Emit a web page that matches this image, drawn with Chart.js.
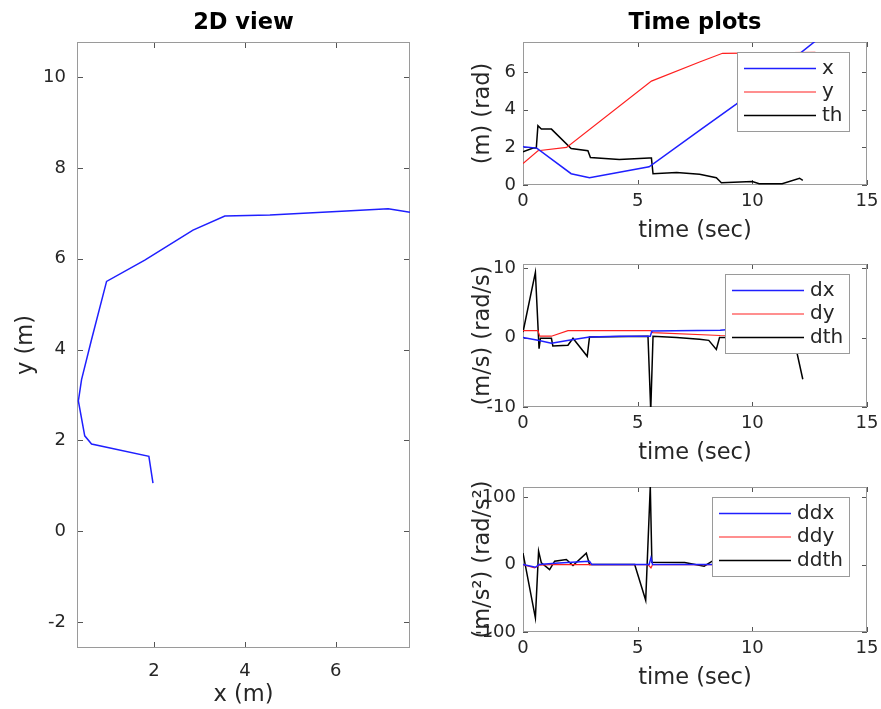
<!DOCTYPE html>
<html>
<head>
<meta charset="utf-8">
<script src="https://cdn.jsdelivr.net/npm/chart.js"></script>
<style>
body{margin:0;background:#fff;}
#wrap{position:relative;width:881px;height:709px;overflow:hidden;background:#fff;}
#wrap canvas{position:absolute;}
</style>
</head>
<body>
<div id="wrap">
	<canvas id="c2d" width="440" height="709" style="left:0;top:0;"></canvas>
	<canvas id="cPos" width="460" height="245" style="left:440px;top:0;"></canvas>
	<canvas id="cVel" width="460" height="223" style="left:440px;top:244px;"></canvas>
	<canvas id="cAcc" width="460" height="225" style="left:440px;top:467px;"></canvas>
</div>
<script>
// 2D 경로 (x, y)
var pathX = [1.98, 1.89, 0.63, 0.48, 0.34, 0.41, 0.63, 0.96, 1.80, 2.86, 3.56, 4.55, 6.23, 7.15, 7.63];
var pathY = [1.06, 1.65, 1.92, 2.10, 2.87, 3.34, 4.22, 5.50, 5.97, 6.63, 6.94, 6.96, 7.05, 7.10, 7.02];
var ticks2dX = [2, 4, 6];
var ticks2dY = [-2, 0, 2, 4, 6, 8, 10];

// 위치 (x, y, th)
var xT = [0, 0.6, 2.1, 2.9, 5.5, 7.7, 9.3, 12.75];
var xV = [2.03, 1.96, 0.6, 0.39, 0.97, 2.9, 4.3, 7.65];
var yT = [0, 0.65, 1.9, 5.6, 7.7, 8.7, 12.75];
var yV = [1.14, 1.82, 2.0, 5.52, 6.54, 7.0, 7.05];
var thT = [0, 0.44, 0.58, 0.65, 0.8, 1.24, 2.1, 2.83, 2.94, 4.2, 5.5, 5.6, 5.67, 6.7, 7.7, 8.43, 8.65, 10.0, 10.3, 11.3, 12.06, 12.2];
var thV = [1.76, 1.96, 1.96, 3.15, 2.97, 2.97, 1.94, 1.82, 1.46, 1.35, 1.43, 1.43, 0.6, 0.66, 0.57, 0.39, 0.12, 0.18, 0.07, 0.07, 0.36, 0.25];

// 속도 (dx, dy, dth)
var dxT = [0, 0.65, 1.24, 2.0, 2.9, 4.2, 5.55, 5.62, 8.6, 9.5, 12.2];
var dxV = [0, -0.4, -0.8, -0.4, 0.1, 0.2, 0.2, 0.95, 1.05, 1.3, 1.3];
var dyT = [0, 0.65, 0.73, 1.24, 1.96, 5.57, 5.65, 8.6, 12.2];
var dyV = [1.0, 1.0, 0.2, 0.2, 1.0, 1.0, 0.7, 0.3, 0.1];
var dthT = [0, 0.54, 0.7, 0.76, 1.24, 1.3, 1.96, 2.18, 2.8, 2.9, 5.45, 5.57, 5.67, 6.7, 7.7, 8.1, 8.43, 8.57, 9.5, 11.0, 11.8, 12.2];
var dthV = [0.8, 9.4, -1.6, -0.1, -0.1, -1.2, -1.1, -0.1, -2.7, 0.1, 0.2, -10.5, 0.2, 0, -0.25, -0.4, -1.7, 0, 0, 0, 0, -6.0];

// 가속도 (ddx, ddy, ddth)
var ddxT = [0, 0.54, 0.7, 1.4, 2.5, 2.9, 3.0, 5.5, 5.58, 5.65, 9.5];
var ddxV = [0, -4, 0, 2, 4, 5, 0, 0, 10, 0, 0];
var ddyT = [0, 0.51, 0.7, 1.2, 5.45, 5.58, 5.65, 9.5];
var ddyV = [0, -5, -1, 0, 0, -5, 0, 0];
var ddthT = [0, 0.54, 0.68, 0.8, 1.16, 1.38, 1.89, 2.18, 2.76, 2.9, 4.87, 5.35, 5.55, 5.62, 7.05, 7.9, 8.25, 8.6, 9.5];
var ddthV = [17, -79, 20, 2.5, -7.4, 5, 7.4, -1.5, 17, 0, 0, -53, 116, 3.4, 3, -2.5, 5, 7, 0];

var timeTicks = [0, 5, 10, 15];
var posTicks = [0, 2, 4, 6];
var velTicks = [-10, 0, 10];
var accTicks = [-100, 0, 100];

Chart.defaults.font.family = '"DejaVu Sans"';
Chart.defaults.color = '#262626';

function pts(t, v){
	return t.map(function(tt, i){ return {x: tt, y: v[i]}; });
}

function line(label, t, v, color, w){
	return {label: label, data: pts(t, v), borderColor: color, borderWidth: w, pointRadius: 0, tension: 0, fill: false};
}

// 테두리 + 안쪽 눈금
var frameTicks = {
	id: 'frameTicks',
	beforeDatasetsDraw: function(chart, args, opts){
		var ctx = chart.ctx, a = chart.chartArea, len = opts.len || 5;
		var sx = chart.scales.x, sy = chart.scales.y;
		ctx.save();
		ctx.strokeStyle = '#555';
		ctx.lineWidth = 1;
		ctx.beginPath();
		sx.ticks.forEach(function(t){
			var p = Math.round(sx.getPixelForValue(t.value)) + 0.5;
			ctx.moveTo(p, a.bottom); ctx.lineTo(p, a.bottom - len);
			ctx.moveTo(p, a.top); ctx.lineTo(p, a.top + len);
		});
		sy.ticks.forEach(function(t){
			var p = Math.round(sy.getPixelForValue(t.value)) + 0.5;
			ctx.moveTo(a.left, p); ctx.lineTo(a.left + len, p);
			ctx.moveTo(a.right, p); ctx.lineTo(a.right - len, p);
		});
		ctx.stroke();
		ctx.strokeStyle = '#9a9a9a';
		ctx.strokeRect(a.left + 0.5, a.top + 0.5, a.right - a.left - 1, a.bottom - a.top - 1);
		ctx.restore();
	}
};

// 그래프 안 범례 상자
var legendBox = {
	id: 'legendBox',
	afterDatasetsDraw: function(chart, args, opts){
		if(!opts.show) return;
		var ctx = chart.ctx, a = chart.chartArea;
		ctx.save();
		ctx.font = '20px "DejaVu Sans"';
		var tw = 0;
		chart.data.datasets.forEach(function(d){ tw = Math.max(tw, ctx.measureText(d.label).width); });
		var w = Math.round(7 + 72 + 6 + tw + 6), h = 79;
		var x = Math.round(a.right - 18 - w), y = Math.round(a.top + opts.top);
		ctx.fillStyle = '#fff';
		ctx.fillRect(x, y, w, h);
		ctx.strokeStyle = '#9a9a9a';
		ctx.lineWidth = 1;
		ctx.strokeRect(x + 0.5, y + 0.5, w, h);
		chart.data.datasets.forEach(function(d, i){
			var ly = y + 16.5 + i * 23.5;
			ctx.strokeStyle = d.borderColor;
			ctx.lineWidth = d.borderWidth;
			ctx.beginPath(); ctx.moveTo(x + 7, ly); ctx.lineTo(x + 79, ly); ctx.stroke();
			ctx.fillStyle = '#262626';
			ctx.textBaseline = 'middle';
			ctx.textAlign = 'left';
			ctx.fillText(d.label, x + 85, ly);
		});
		ctx.restore();
	}
};

function setTicks(list){
	return function(s){ s.ticks = list.map(function(v){ return {value: v}; }); };
}

// 왼쪽 2D 그래프
new Chart(document.getElementById('c2d'), {
	type: 'line',
	data: {datasets: [line('path', pathY.map(function(v, i){ return pathX[i]; }), pathY, '#1f1fff', 1.5)]},
	options: {
		responsive: false, animation: false, events: [],
		layout: {padding: {right: 30}},
		plugins: {
			legend: {display: false}, tooltip: {enabled: false},
			title: {display: true, fullSize: false, text: '2D view', color: '#000', font: {size: 22.5, weight: 'bold'}, padding: {top: 10, bottom: 5}},
			frameTicks: {len: 6}, legendBox: {show: false}
		},
		scales: {
			x: {type: 'linear', min: 0.31, max: 7.63, grid: {display: false, drawTicks: false}, border: {display: false},
				ticks: {font: {size: 18}, padding: 13, maxRotation: 0, autoSkip: false},
				afterBuildTicks: setTicks(ticks2dX),
				afterFit: function(s){ s.height = 61; },
				title: {display: true, text: 'x (m)', font: {size: 22.5}, padding: {top: 0, bottom: 0}}},
			y: {type: 'linear', min: -2.57, max: 10.77, grid: {display: false, drawTicks: false}, border: {display: false},
				ticks: {font: {size: 18}, padding: 11, autoSkip: false},
				afterBuildTicks: setTicks(ticks2dY),
				afterFit: function(s){ s.width = 77; },
				title: {display: true, text: 'y (m)', font: {size: 22.5}, padding: {top: 13, bottom: 0}}}
		}
	},
	plugins: [frameTicks, legendBox]
});

// 오른쪽 시간 그래프
function timeChart(id, sets, yLabel, ymin, ymax, yTicks, title){
	var opts = {
		responsive: false, animation: false, events: [],
		layout: {padding: {right: 33, top: title ? 0 : 20}},
		plugins: {
			legend: {display: false}, tooltip: {enabled: false},
			title: {display: !!title, fullSize: false, text: title || '', color: '#000', font: {size: 22.5, weight: 'bold'}, padding: {top: 10, bottom: 5}},
			frameTicks: {len: 5}, legendBox: {show: true, top: 10}
		},
		scales: {
			x: {type: 'linear', min: 0, max: 15, grid: {display: false, drawTicks: false}, border: {display: false},
				ticks: {font: {size: 18}, padding: 6, maxRotation: 0, autoSkip: false},
				afterBuildTicks: setTicks(timeTicks),
				afterFit: function(s){ s.height = 60; },
				title: {display: true, text: 'time (sec)', font: {size: 22.5}, padding: {top: 0, bottom: 0}}},
			y: {type: 'linear', min: ymin, max: ymax, grid: {display: false, drawTicks: false}, border: {display: false},
				ticks: {font: {size: 18}, padding: 7, autoSkip: false},
				afterBuildTicks: setTicks(yTicks),
				afterFit: function(s){ s.width = 83; },
				title: {display: true, text: yLabel, font: {size: 22.5}, padding: {top: 30, bottom: 0}}}
		}
	};
	return new Chart(document.getElementById(id), {type: 'line', data: {datasets: sets}, options: opts, plugins: [frameTicks, legendBox]});
}

timeChart('cPos', [
	line('x', xT, xV, '#1f1fff', 1.5),
	line('y', yT, yV, '#ff2020', 1.2),
	line('th', thT, thV, '#000', 1.5)
], '(m) (rad)', 0, 7.6, posTicks, 'Time plots');

timeChart('cVel', [
	line('dx', dxT, dxV, '#1f1fff', 1.5),
	line('dy', dyT, dyV, '#ff2020', 1.2),
	line('dth', dthT, dthV, '#000', 1.5)
], '(m/s) (rad/s)', -10, 10.6, velTicks);

timeChart('cAcc', [
	line('ddx', ddxT, ddxV, '#1f1fff', 1.5),
	line('ddy', ddyT, ddyV, '#ff2020', 1.2),
	line('ddth', ddthT, ddthV, '#000', 1.5)
], '(m/s²) (rad/s²)', -100, 115, accTicks);
</script>
</body>
</html>
